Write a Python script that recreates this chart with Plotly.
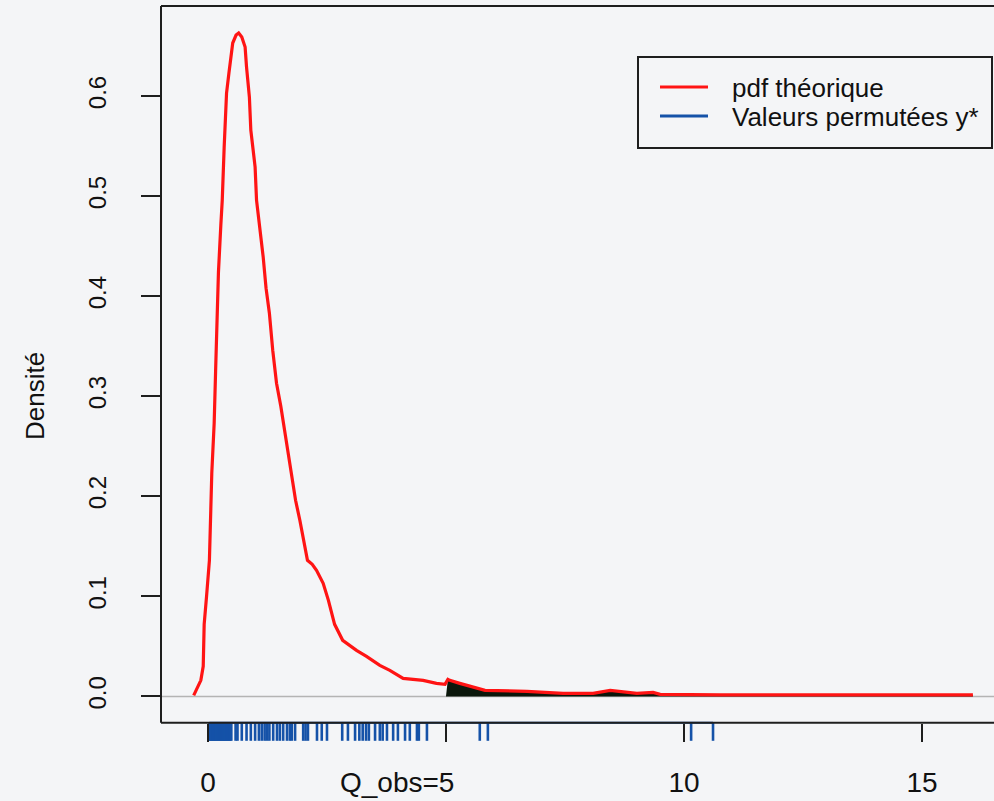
import plotly.graph_objects as go

# ---------------- data ----------------
dens_x = [-0.30, -0.15, -0.10, -0.08, -0.03, 0.03, 0.08, 0.13, 0.16, 0.22, 0.27, 0.30,
          0.34, 0.39, 0.44, 0.48, 0.52, 0.59, 0.645, 0.71, 0.78, 0.81, 0.87, 0.90,
          0.99, 1.02, 1.07, 1.16, 1.22, 1.29, 1.36, 1.44, 1.53, 1.62, 1.72, 1.84,
          1.93, 2.09, 2.19, 2.28, 2.42, 2.53, 2.66, 2.83, 3.12, 3.33, 3.61, 3.82,
          4.10, 4.52, 4.80, 4.98, 5.04, 5.08, 5.29, 5.50, 5.82, 6.70, 7.46, 8.09,
          8.45, 9.01, 9.35, 9.50, 10.76, 16.07]
dens_y = [0.001, 0.016, 0.030, 0.072, 0.100, 0.136, 0.223, 0.273, 0.325, 0.424, 0.471, 0.496,
          0.549, 0.603, 0.623, 0.636, 0.653, 0.661, 0.663, 0.659, 0.649, 0.629, 0.599, 0.566,
          0.529, 0.496, 0.476, 0.439, 0.408, 0.383, 0.346, 0.313, 0.290, 0.263, 0.230, 0.196,
          0.176, 0.136, 0.132, 0.126, 0.113, 0.096, 0.072, 0.056, 0.046, 0.040, 0.031, 0.026,
          0.018, 0.016, 0.013, 0.012, 0.017, 0.016, 0.013, 0.010, 0.006, 0.005, 0.003, 0.003,
          0.006, 0.003, 0.004, 0.002, 0.0014, 0.0014]

q_obs = 5

rug_values = [0.03, 0.05, 0.07, 0.09, 0.11, 0.13, 0.15, 0.17, 0.19, 0.21, 0.23, 0.25,
              0.27, 0.29, 0.31, 0.33, 0.35, 0.37, 0.39, 0.41, 0.43, 0.45, 0.47, 0.49,
              0.58, 0.62, 0.71, 0.81, 0.90, 0.99, 1.07, 1.13, 1.19, 1.24, 1.29, 1.37,
              1.45, 1.51, 1.58, 1.66, 1.72, 1.76, 1.83, 2.00, 2.05, 2.10, 2.29, 2.39,
              2.50, 2.82, 2.94, 3.09, 3.18, 3.25, 3.32, 3.38, 3.51, 3.61, 3.67, 3.76,
              3.89, 3.99, 4.14, 4.24, 4.39, 4.43, 4.60, 5.71, 5.88, 10.15, 10.61]

x_tickvals = [0, 5, 10, 15]
x_ticktext = ["0", "Q_obs=5", "10", "15"]
y_tickvals = [0.0, 0.1, 0.2, 0.3, 0.4, 0.5, 0.6]
y_ticktext = ["0.0", "0.1", "0.2", "0.3", "0.4", "0.5", "0.6"]

legend_labels = ["pdf théorique", "Valeurs permutées y*"]

# ---------------- style / layout ----------------
W, H = 994, 801
M_L, M_R, M_T, M_B = 161, 0, 6, 59
PW, PH = W - M_L - M_R, H - M_T - M_B
X_RANGE = [-0.987, 16.513]
Y_RANGE = [-0.0456, 0.690]
BOX_BOTTOM = -0.0264        # bottom of the R plot region
RUG_LEN = 0.018

RED = "#ff1414"
BLUE = "#1552a8"
BLACK = "#1e1e1e"
BG = "#f4f5f7"
TXT = "#111111"
FONT = "Liberation Sans, Arial, sans-serif"


def px_x(p):
    return (p - M_L) / PW


def px_y(p):
    return (H - M_B - p) / PH


def dy_paper(v):
    return (v - Y_RANGE[0]) / (Y_RANGE[1] - Y_RANGE[0])


fig = go.Figure()

# zero line
fig.add_trace(go.Scatter(x=X_RANGE, y=[0, 0], mode="lines",
                         line=dict(color="#b4b4b4", width=1.5), hoverinfo="skip"))

# shaded tail beyond Q_obs
fx = [q_obs] + [x for x in dens_x if x > q_obs]
fy = [0.0] + [y for x, y in zip(dens_x, dens_y) if x > q_obs]
fig.add_trace(go.Scatter(x=fx, y=fy, mode="lines", fill="tozeroy",
                         fillcolor="#0b170b", line=dict(color="#0b170b", width=0),
                         hoverinfo="skip"))

# density curve
fig.add_trace(go.Scatter(x=dens_x, y=dens_y, mode="lines", name=legend_labels[0],
                         line=dict(color=RED, width=3.2)))

# rug baseline
fig.add_trace(go.Scatter(x=[min(rug_values), max(rug_values)], y=[BOX_BOTTOM, BOX_BOTTOM],
                         mode="lines", line=dict(color=BLUE, width=2), hoverinfo="skip"))

# rug ticks
rx, ry = [], []
for v in rug_values:
    rx += [v, v, None]
    ry += [BOX_BOTTOM, BOX_BOTTOM - RUG_LEN, None]
fig.add_trace(go.Scatter(x=rx, y=ry, mode="lines", name=legend_labels[1],
                         line=dict(color=BLUE, width=2.6)))

# box (left, top, bottom)
yb = dy_paper(BOX_BOTTOM)
shapes = [
    dict(type="line", xref="paper", yref="paper", x0=0, x1=0, y0=yb, y1=1,
         line=dict(color=BLACK, width=2)),
    dict(type="line", xref="paper", yref="paper", x0=0, x1=1, y0=1, y1=1,
         line=dict(color=BLACK, width=2)),
    dict(type="line", xref="paper", yref="paper", x0=0, x1=1, y0=yb, y1=yb,
         line=dict(color=BLACK, width=2)),
    # legend box
    dict(type="rect", xref="paper", yref="paper", x0=px_x(638), x1=px_x(992),
         y0=px_y(148), y1=px_y(57), line=dict(color=BLACK, width=2), fillcolor=BG),
    dict(type="line", xref="paper", yref="paper", x0=px_x(660), x1=px_x(708),
         y0=px_y(87), y1=px_y(87), line=dict(color=RED, width=3)),
    dict(type="line", xref="paper", yref="paper", x0=px_x(660), x1=px_x(708),
         y0=px_y(116), y1=px_y(116), line=dict(color=BLUE, width=3)),
]

qi = x_tickvals.index(q_obs)
annotations = [
    dict(text=legend_labels[0], xref="paper", yref="paper", x=px_x(730), y=px_y(88),
         xanchor="left", yanchor="middle", showarrow=False,
         font=dict(family=FONT, size=26, color=TXT)),
    dict(text=legend_labels[1], xref="paper", yref="paper", x=px_x(730), y=px_y(117),
         xanchor="left", yanchor="middle", showarrow=False,
         font=dict(family=FONT, size=26, color=TXT)),
    dict(text="Densité", xref="paper", yref="paper", x=px_x(35), y=px_y(396),
         xanchor="center", yanchor="middle", textangle=-90, showarrow=False,
         font=dict(family=FONT, size=26, color=TXT)),
    # Q_obs label (drawn slightly left of its tick, as in the original)
    dict(text=x_ticktext[qi], xref="x", yref="paper", x=x_tickvals[qi], y=px_y(782),
         xanchor="right", yanchor="middle", xshift=10, showarrow=False,
         font=dict(family=FONT, size=28, color=TXT)),
]

axis_text = [t if i != qi else "" for i, t in enumerate(x_ticktext)]

fig.update_layout(
    width=W, height=H, autosize=False,
    margin=dict(l=M_L, r=M_R, t=M_T, b=M_B, pad=0),
    paper_bgcolor=BG, plot_bgcolor=BG,
    showlegend=False,
    shapes=shapes, annotations=annotations,
    font=dict(family=FONT, color=TXT),
    xaxis=dict(range=X_RANGE, showgrid=False, zeroline=False, showline=False,
               tickmode="array", tickvals=x_tickvals, ticktext=axis_text,
               ticks="inside", ticklen=18, tickwidth=2, tickcolor=BLACK,
               tickfont=dict(family=FONT, size=28, color=TXT),
               ticklabelstandoff=21),
    yaxis=dict(range=Y_RANGE, showgrid=False, zeroline=False, showline=False,
               tickmode="array", tickvals=y_tickvals, ticktext=y_ticktext,
               ticks="outside", ticklen=19, tickwidth=2, tickcolor=BLACK,
               tickangle=-90,
               tickfont=dict(family=FONT, size=24, color=TXT),
               ticklabelstandoff=25),
)

fig.write_html("out.html")
